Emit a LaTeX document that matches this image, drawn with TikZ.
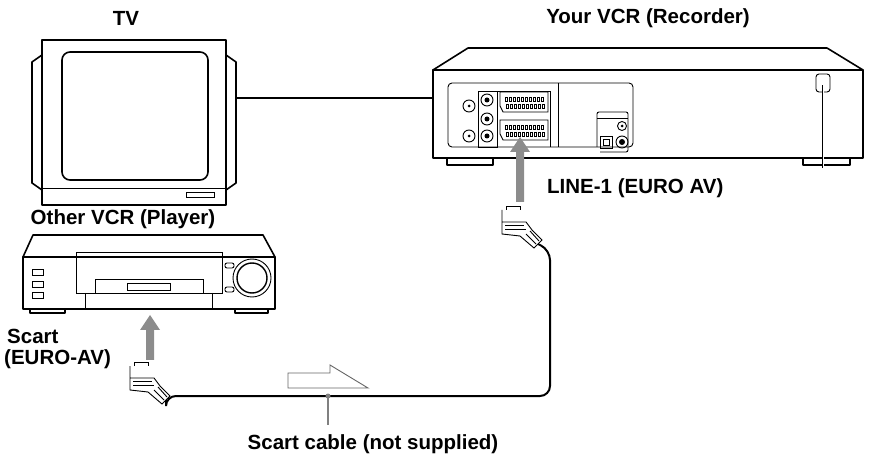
\documentclass[tikz,border=0pt]{standalone}
\usepackage{fontspec}
\setmainfont{Liberation Sans}
\usetikzlibrary{arrows.meta}
\tikzset{
  lbl/.style = {font=\fontsize{20.5}{24}\selectfont\bfseries, inner sep=0pt},
  body/.style = {draw, line width=1.6pt, fill=white, line join=round},
  thin/.style = {draw, line width=0.9pt},
  gray arrow/.style = {draw=none, fill=black!45},
  cable/.style = {line width=2pt},
  plug/.pic = {
    \draw[thin, fill=white] (-22,-12) -- (-22,0) -- (2,0) -- (8,8) -- (18,18) -- (10,26) -- (-4,14) -- (-22,12) -- cycle;
    \draw[thin] (-18,-12) -- (-18,-16) -- (-4,-16) -- (-4,-12);
    \draw[thin] (-19,3) -- (0,3) (-19,7) -- (2,7);
    \draw[thin] (2,12) -- (12,22) (6,9) -- (15,19);
    \coordinate (-tail) at (14,22);
  }
}
\begin{document}
\begin{tikzpicture}[x=1pt, y=-1pt]
\useasboundingbox (0,0) rectangle (873,462);
% labels
\node[lbl] (tvlabel) at (126,18) {TV};
\node[lbl] (reclabel) at (648,18) {Your VCR (Recorder)};
\node[lbl, anchor=west] (linelabel) at (547,188) {LINE-1 (EURO AV)};
\node[lbl] (playlabel) at (123,219) {Other VCR (Player)};
\node[lbl, anchor=west] (scartlabel) at (7,336) {Scart};
\node[lbl, anchor=west] (eurolabel) at (4,359) {(EURO-AV)};
\node[lbl] (cablelabel) at (373,444) {Scart cable (not supplied)};
% TV
\coordinate (tvout) at (226,98);
\coordinate (recin) at (433,98);
\draw[cable] (tvout) -- (recin);
\draw[body] (32,62) -- (42,55) -- (42,190) -- (32,183) -- cycle;
\draw[body] (236,62) -- (226,55) -- (226,190) -- (236,183) -- cycle;
\draw[body] (42,40) rectangle (226,205);
\draw[body, rounded corners=8pt] (62,52) rectangle (208,180);
\draw[thin] (42,188) -- (226,188);
\draw[thin] (186,192) rectangle (214,197);
% recorder
\draw[body] (447,157) rectangle (493,165);
\draw[body] (803,157) rectangle (850,165);
\draw[body] (433,70) -- (468,48) -- (827,48) -- (863,70) -- cycle;
\draw[body] (433,70) rectangle (863,158);
\draw[thin, rounded corners=4pt] (448,83) rectangle (633,147);
\draw[thin] (558,83) -- (558,147);
\draw[thin] (478,91) rectangle (497,147);
\draw[thin] (497,91) -- (550,91) -- (550,147);
\foreach \y in {106,136} {
  \draw[thin] (469,\y) circle (6); \fill (469,\y) circle (1.5);
}
\foreach \y in {100,119,136} {
  \draw[thin] (487,\y) circle (6); \fill (487,\y) circle (2.5);
}
\foreach \y in {92,120} {
  \draw[thin] (500,\y) -- (548,\y) -- (548,\y+20) -- (503,\y+20) -- (500,\y+14) -- cycle;
  \foreach \x in {505,509,...,543} {
    \draw[line width=0.5pt] (\x,\y+5) rectangle (\x+2,\y+9);
    \draw[line width=0.5pt] (\x+1,\y+12) rectangle (\x+3,\y+16);
  }
}
\draw[thin, rounded corners=2pt] (597,147) -- (597,112) -- (628,112) -- (628,152) -- (600,152);
\draw[thin] (597,118) -- (628,118);
\draw[thin] (622,126) circle (4.5); \fill (622,126) circle (1.5);
\draw[thin] (622,142) circle (6); \fill (622,142) circle (3);
\draw[thin] (600,136) rectangle (612,148);
\draw[thin] (603,139) rectangle (609,145);
\draw[thin, rounded corners=3pt] (816,74) rectangle (830,92);
\draw[cable, line width=2.5pt] (823,168) -- (823,85);
\draw[white, line width=1pt] (823,168) -- (823,85);
% player
\draw[body] (30,309) rectangle (65,313);
\draw[body] (235,309) rectangle (268,313);
\draw[body] (23,257) -- (33,235) -- (263,235) -- (275,257) -- cycle;
\draw[body] (23,257) rectangle (275,309);
\draw[thin] (76,252) rectangle (222,293);
\draw[thin] (85,293) -- (85,309) (212,293) -- (212,309);
\draw[thin] (95,293) -- (95,279) -- (203,279) -- (203,293);
\draw[thin] (127,283) rectangle (170,290);
\foreach \y in {269,281,292}
  \draw[thin] (32,\y) rectangle (43,\y+6);
\draw[thin, rounded corners=2pt] (225,263) rectangle (234,268);
\draw[thin, rounded corners=2pt] (225,287) rectangle (234,292);
\draw[thin] (252,278) circle (19);
\draw[line width=1.4pt] (252,278) circle (15);
% gray arrows
\fill[gray arrow] (516,202) -- (516,152) -- (510,152) -- (520,137) -- (530,152) -- (524,152) -- (524,202) -- cycle;
\fill[gray arrow] (146,360) -- (146,330) -- (140,330) -- (150,315) -- (160,330) -- (154,330) -- (154,360) -- cycle;
% scart cable
\pic (topplug) at (524,222) {plug};
\pic (lowplug) at (152,378) {plug};
\draw[cable, rounded corners=10pt] (topplug-tail) -- (550,250) -- (550,396) -- (lowplug-tail |- 0,396) -- (lowplug-tail);
\draw[thin, draw=black!60, fill=white] (288,373) -- (330,373) -- (330,365) -- (368,388) -- (288,388) -- cycle;
\coordinate (tap) at (328,396);
\fill[black!50] (tap) circle (2.5);
\draw[line width=1.4pt, black!50] (tap) -- (328,425);
\end{tikzpicture}
\end{document}
